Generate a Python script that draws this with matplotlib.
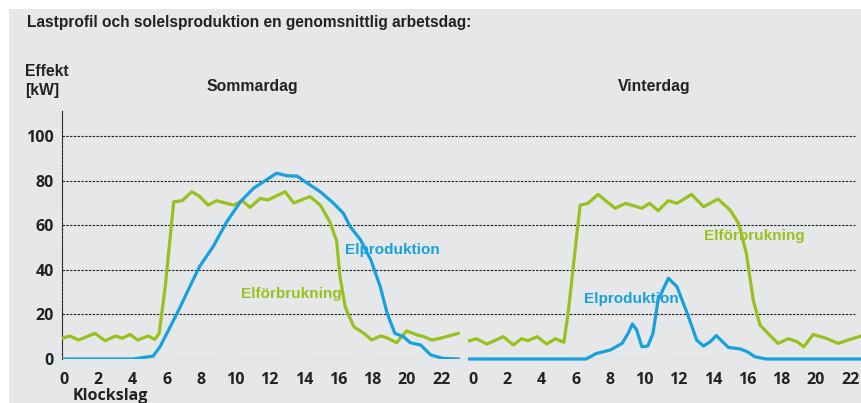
import numpy as np
import matplotlib.pyplot as plt
from matplotlib.patches import Rectangle

# --- data (hour, kW) ---
sommar_forbr_h = [-0.1, 0.35, 0.84, 1.8, 2.4, 3.0, 3.4, 3.85, 4.3, 4.9, 5.3, 5.55, 5.9, 6.4, 6.9,
                  7.45, 7.9, 8.4, 8.9, 9.9, 10.4, 10.85, 11.45, 11.9, 12.9, 13.4, 14.35, 14.95,
                  15.5, 15.9, 16.1, 16.4, 16.9, 17.5, 17.95, 18.45, 18.8, 19.4, 20.0, 20.6, 21.0,
                  21.45, 21.95, 23.0]
sommar_forbr = [9.3, 10.3, 8.5, 11.5, 8.2, 10.3, 9.3, 11.0, 8.5, 10.3, 8.8, 11.5, 32, 70.5, 71,
                75, 73, 69, 71, 69, 71, 68, 72, 71.3, 75, 70, 72.8, 69,
                61.6, 53, 37, 23.5, 14.5, 11.5, 8.5, 10.3, 9.6, 7.3, 12.6, 10.8, 10,
                8.5, 9.3, 11.5]

sommar_prod_h = [-0.1, 4.0, 5.2, 5.6, 6.0, 6.6, 7.15, 7.9, 8.7, 9.5, 10.3, 11.05, 11.8, 12.4,
                 13.0, 13.6, 14.2, 14.95, 15.7, 16.3, 16.7, 17.3, 17.9, 18.45, 18.85, 19.3,
                 19.8, 20.2, 20.8, 21.4, 22.1, 23.0]
sommar_prod = [0, 0, 1.3, 5.5, 11.5, 20.5, 29.4, 41.4, 50.4, 61.6, 70.6, 76.5, 80.3, 83.3,
               82.2, 82, 78.8, 75, 70, 65.3, 59.3, 53.4, 44.4, 32.4, 20.5, 11.5,
               10, 7.3, 6.3, 1.8, 0.3, 0]

vinter_forbr_h = [-0.2, 0.2, 0.8, 1.77, 2.35, 2.84, 3.2, 3.75, 4.3, 4.8, 5.3, 5.55, 5.85, 6.25,
                  6.7, 7.3, 7.8, 8.3, 8.9, 9.85, 10.3, 10.8, 11.4, 11.9, 12.75, 13.45, 14.3,
                  15.0, 15.5, 15.95, 16.35, 16.75, 17.3, 17.8, 18.4, 18.9, 19.3, 19.85, 20.6,
                  21.3, 22.0, 22.65]
vinter_forbr = [8.2, 9.1, 6.7, 10, 6.3, 9.1, 8.2, 10, 6.7, 9.1, 7.5, 20.5, 41.4, 69,
                69.8, 73.8, 70.6, 67.6, 69.8, 67.6, 69.8, 66.5, 71, 69.8, 73.8, 68.3, 71.7,
                66.8, 60.8, 47.4, 26.5, 15.2, 10.8, 7, 9.1, 7.8, 5.5, 11, 9.3,
                7, 8.8, 10.3]

vinter_prod_h = [-0.2, 6.6, 7.2, 8.0, 8.7, 9.05, 9.3, 9.55, 9.85, 10.2, 10.5, 10.8, 11.4, 11.9,
                 12.5, 13.05, 13.45, 13.85, 14.2, 14.5, 14.9, 15.6, 16.0, 16.45, 17.1, 22.65]
vinter_prod = [0, 0, 2.5, 4, 7, 11.5, 15.7, 13, 5.5, 5.8, 11.5, 26.5, 36.2, 32.4,
               20.5, 8.5, 5.8, 7.8, 10.5, 8.2, 5.2, 4.5, 3.3, 1, 0, 0]

y_ticks = [0, 20, 40, 60, 80, 100]
x_ticks = list(range(0, 24, 2))

GREEN = '#98c11d'
BLUE = '#17a1dc'
BG = '#e6e7e9'
TICKFONT = 'Open Sans'
TEXTFONT = 'Liberation Sans'

fig = plt.figure(figsize=(8.61, 4.03), dpi=100)
fig.patch.set_facecolor('white')
fig.patches.append(Rectangle((9 / 861, 0), 1, 1 - 9 / 403, transform=fig.transFigure,
                             facecolor=BG, edgecolor='none', zorder=-10))

W, H = 861, 403
def px_axes(x0, x1, ytop, ybot):
    return fig.add_axes([x0 / W, (H - ybot) / H, (x1 - x0) / W, (ybot - ytop) / H])

ax1 = px_axes(62, 460, 111, 359)
ax2 = px_axes(460, 861, 111, 359)

ymax = (359 - 111) / 2.23
ax1.set_xlim(-0.117, 23.1)
ax2.set_xlim(-0.76, 22.64)

for ax, grid_x in ((ax1, (-0.117, 23.1)), (ax2, (-0.76, 22.29))):
    ax.set_ylim(0, ymax)
    ax.patch.set_alpha(0)
    for s in ax.spines.values():
        s.set_visible(False)
    ax.hlines(y_ticks, grid_x[0], grid_x[1], colors='#222222', linestyles=(0, (2.2, 1.2)),
              linewidth=0.8, zorder=1)
    ax.set_xticks(x_ticks)
    ax.tick_params(length=0, pad=9)
    for lab in ax.get_xticklabels():
        lab.set_fontfamily(TICKFONT)
        lab.set_fontweight('bold')
        lab.set_fontsize(11.5)
        lab.set_color('#222222')

ax1.spines['left'].set_visible(True)
ax1.spines['left'].set_linestyle((0, (2.2, 1.2)))
ax1.spines['left'].set_linewidth(0.8)
ax1.spines['left'].set_color('#222222')
ax1.set_yticks(y_ticks)
ax1.tick_params(axis='y', pad=6)
for lab in ax1.get_yticklabels():
    lab.set_fontfamily(TICKFONT)
    lab.set_fontweight('bold')
    lab.set_fontsize(11.5)
    lab.set_color('#222222')
ax2.set_yticks([])

lw = 2.3
ax1.plot(sommar_forbr_h, sommar_forbr, color=GREEN, lw=lw, solid_joinstyle='round', zorder=3)
ax1.plot(sommar_prod_h, sommar_prod, color=BLUE, lw=lw, solid_joinstyle='round', zorder=4)
ax2.plot(vinter_forbr_h, vinter_forbr, color=GREEN, lw=lw, solid_joinstyle='round', zorder=3, clip_on=False)
ax2.plot(vinter_prod_h, vinter_prod, color=BLUE, lw=lw, solid_joinstyle='round', zorder=4, clip_on=False)

lab_kw = dict(fontfamily=TEXTFONT, fontweight='bold', fontsize=11, va='center', zorder=5)
ax1.text(16.4, 49, 'Elproduktion', color=BLUE, ha='left', **lab_kw)
ax1.text(10.3, 29, 'Elförbrukning', color=GREEN, ha='left', **lab_kw)
ax2.text(13.45, 55, 'Elförbrukning', color=GREEN, ha='left', **lab_kw)
ax2.text(6.5, 27, 'Elproduktion', color=BLUE, ha='left', **lab_kw)

txt_kw = dict(fontfamily=TEXTFONT, fontweight='bold', color='#222222', va='center')
fig.text(27 / W, 1 - 22 / H, 'Lastprofil och solelsproduktion en genomsnittlig arbetsdag:',
         fontsize=11.2, ha='left', **txt_kw)
fig.text(25 / W, 1 - 71 / H, 'Effekt', fontsize=11.3, ha='left', **txt_kw)
fig.text(25 / W, 1 - 90 / H, '[kW]', fontsize=11.3, ha='left', **txt_kw)
fig.text(252 / W, 1 - 87 / H, 'Sommardag', fontsize=11.3, ha='center', **txt_kw)
fig.text(654 / W, 1 - 87 / H, 'Vinterdag', fontsize=11.3, ha='center', **txt_kw)
fig.text(110 / W, 1 - 396 / H, 'Klockslag', fontsize=11.5, ha='center',
         fontfamily=TICKFONT, fontweight='bold', color='#222222', va='center')

fig.savefig('out.png', dpi=100)
